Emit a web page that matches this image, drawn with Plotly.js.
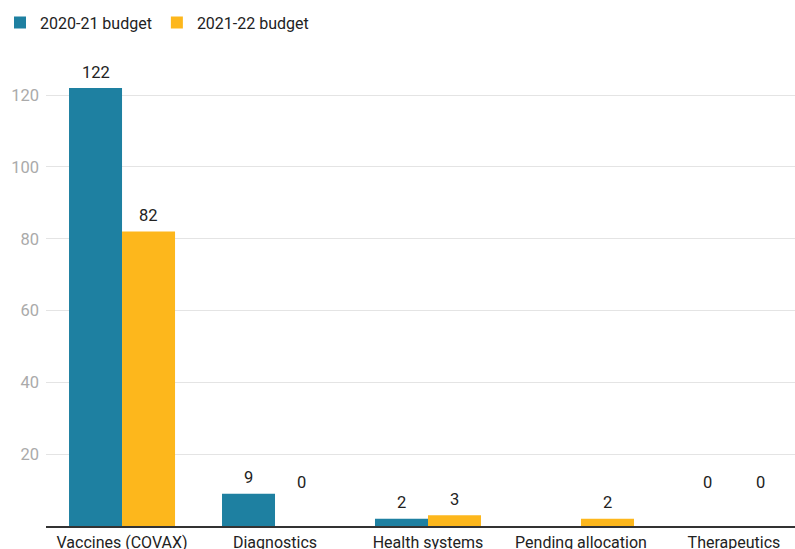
<!DOCTYPE html>
<html>
<head>
<meta charset="utf-8">
<script src="https://cdn.plot.ly/plotly-3.0.1.min.js"></script>
<style>html,body{margin:0;padding:0;background:#fff;}#chart{width:795px;height:549px;}</style>
</head>
<body>
<div id="chart"></div>
<script>
const categories = ["Vaccines (COVAX)", "Diagnostics", "Health systems", "Pending allocation", "Therapeutics"];
const series1Name = "2020-21 budget";
const series2Name = "2021-22 budget";
const series1 = [122, 9, 2, null, 0];
const series2 = [82, 0, 3, 2, 0];
const yTicks = [20, 40, 60, 80, 100, 120];

const teal = "#1e80a1";
const yellow = "#fdb71c";
const font = "Roboto, 'Open Sans', sans-serif";

const traces = [
  {type: "bar", name: series1Name, x: categories, y: series1, marker: {color: teal}, hoverinfo: "none"},
  {type: "bar", name: series2Name, x: categories, y: series2, marker: {color: yellow}, hoverinfo: "none"}
];

const annotations = [];
[[series1, -26.5], [series2, 26.5]].forEach(([vals, xs]) => {
  vals.forEach((v, i) => {
    if (v === null) return;
    annotations.push({
      x: categories[i], y: v, xref: "x", yref: "y",
      text: String(v), showarrow: false,
      xshift: xs, yshift: v > 0 ? 16 : 44,
      yanchor: "middle",
      font: {family: font, size: 16.5, color: "#222"}
    });
  });
});

const layout = {
  width: 795, height: 549,
  margin: {l: 46, r: 0, t: 60, b: 23},
  paper_bgcolor: "#fff", plot_bgcolor: "#fff",
  font: {family: font},
  barmode: "group",
  bargap: 0.307,
  bargroupgap: 0,
  showlegend: true,
  legend: {
    orientation: "h", xref: "container", yref: "container",
    x: 0.0, y: 0.99, xanchor: "left", yanchor: "top",
    font: {family: font, size: 16, color: "#222"},
    itemwidth: 30, traceorder: "normal"
  },
  xaxis: {
    type: "category",
    range: [-0.497, 4.399],
    showline: true, linecolor: "#333", linewidth: 1.5,
    showgrid: false, ticks: "",
    ticklabelstandoff: 1,
    tickfont: {family: font, size: 16, color: "#222"},
    fixedrange: true
  },
  yaxis: {
    range: [0, 129.8],
    tickvals: yTicks, ticktext: yTicks.map(String),
    showgrid: true, gridcolor: "#e4e4e4", gridwidth: 1,
    zeroline: false, showline: false, ticks: "",
    ticklabelstandoff: 6,
    tickfont: {family: font, size: 16.5, color: "#aaa"},
    fixedrange: true
  },
  annotations: annotations
};

Plotly.newPlot("chart", traces, layout, {displayModeBar: false, staticPlot: true});
</script>
</body>
</html>
